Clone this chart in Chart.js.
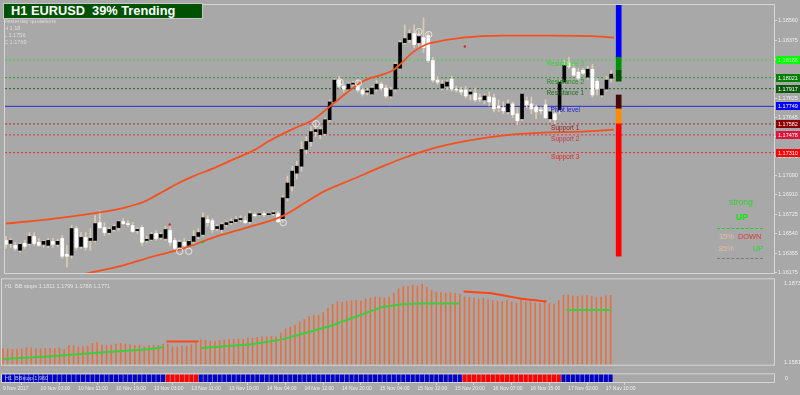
<!DOCTYPE html>
<html><head><meta charset="utf-8">
<script src="https://cdn.jsdelivr.net/npm/chart.js@4.4.1/dist/chart.umd.min.js"></script>
<style>
html,body{margin:0;padding:0;background:#a8a8a8;width:800px;height:395px;overflow:hidden;font-family:"Liberation Sans",Arial,sans-serif;}
.pane{position:absolute;left:0;width:800px;}
.pane canvas{display:block;}
#title{position:absolute;left:3px;top:3px;width:191px;height:14px;background:#005200;border:1px solid #c8c8c8;color:#fff;font-weight:bold;font-size:12.8px;line-height:14px;padding-left:7px;white-space:pre;}
.q{position:absolute;left:4px;font-size:5.6px;color:#dcdcdc;line-height:6px;white-space:pre;}
.lg{position:absolute;line-height:10px;white-space:pre;}
.dl{position:absolute;left:717px;width:46px;height:0;}
</style></head><body>
<div class="pane" style="top:0;height:280px"><canvas id="cMain" width="800" height="280"></canvas></div>
<div class="pane" style="top:274px;height:96px"><canvas id="cSub" width="800" height="96"></canvas></div>
<div class="pane" style="top:368px;height:27px"><canvas id="cTrend" width="800" height="27"></canvas></div>

<div id="title">H1 EURUSD  39% Trending</div>
<div class="q" style="top:18px">Yesterday quotations</div>
<div class="q" style="top:25px">H 1.18</div>
<div class="q" style="top:32px">L 1.1756</div>
<div class="q" style="top:39px">C 1.1769</div>

<div class="lg" style="left:729px;top:197px;font-size:8.6px;color:#2fd02f">strong</div>
<div class="lg" style="left:736px;top:212px;font-size:8.5px;font-weight:bold;color:#00f000">UP</div>
<div class="dl" style="top:228px;border-top:1px dashed #22cc22"></div>
<div class="lg" style="left:719px;top:232px;font-size:7.4px;color:#e8bca4">15%</div>
<div class="lg" style="left:738px;top:232px;font-size:7.4px;color:#e03434">DOWN</div>
<div class="lg" style="left:719px;top:244px;font-size:7.4px;color:#e8bca4">85%</div>
<div class="lg" style="left:753px;top:244px;font-size:7.4px;color:#22dd22">UP</div>
<div class="dl" style="top:258px;border-top:1px dashed #7a7a7a"></div>

<script>
// ---------- data ----------
const timeLabels = ['9 Nov 2017','10 Nov 03:00','10 Nov 11:00','10 Nov 19:00','13 Nov 03:00','13 Nov 11:00','13 Nov 19:00','14 Nov 04:00','14 Nov 12:00','14 Nov 20:00','15 Nov 04:00','15 Nov 12:00','15 Nov 20:00','16 Nov 07:00','16 Nov 15:00','17 Nov 02:00','17 Nov 10:00'];
const timeIdx = [0,8,16,24,32,40,48,56,64,72,80,88,96,104,112,120,128];

const opens = [
1.16476,1.16448,1.16429,1.16383,1.16448,1.16448,1.16514,1.16458,1.16439,1.16429,
1.16467,1.16439,1.16495,1.16345,1.16336,1.16589,1.16420,1.16505,1.16476,1.16476,
1.16645,1.16598,1.16551,1.16580,1.16598,1.16655,1.16636,1.16617,1.16570,1.16598,
1.16476,1.16486,1.16542,1.16505,1.16495,1.16570,1.16476,1.16411,1.16458,1.16429,
1.16467,1.16514,1.16533,1.16674,1.16664,1.16589,1.16580,1.16627,1.16645,1.16655,
1.16674,1.16664,1.16655,1.16720,1.16720,1.16730,1.16720,1.16730,1.16730,1.16683,
1.16880,1.16993,1.17115,1.17181,1.17340,1.17415,1.17509,1.17481,1.17491,1.17622,
1.17791,1.17998,1.17941,1.17913,1.17960,1.17960,1.17904,1.17885,1.17866,1.17913,
1.17960,1.17922,1.17847,1.17913,1.18110,1.18354,1.18383,1.18439,1.18354,1.18401,
1.18420,1.18185,1.17998,1.17922,1.17941,1.18007,1.17913,1.17904,1.17904,1.17866,
1.17875,1.17829,1.17810,1.17838,1.17829,1.17753,1.17735,1.17697,1.17772,1.17678,
1.17631,1.17800,1.17772,1.17744,1.17716,1.17763,1.17631,1.17678,1.17716,1.17979,
1.18167,1.18110,1.18073,1.18091,1.18026,1.18101,1.17988,1.17857,1.17913,1.18016];
const highs = [
1.16514,1.16495,1.16458,1.16448,1.16476,1.16551,1.16551,1.16495,1.16476,1.16495,
1.16495,1.16486,1.16523,1.16429,1.16617,1.16608,1.16551,1.16551,1.16589,1.16711,
1.16758,1.16645,1.16598,1.16627,1.16664,1.16683,1.16664,1.16645,1.16598,1.16617,
1.16514,1.16551,1.16570,1.16551,1.16608,1.16608,1.16495,1.16476,1.16495,1.16476,
1.16570,1.16589,1.16739,1.16711,1.16683,1.16627,1.16645,1.16664,1.16683,1.16702,
1.16711,1.16702,1.16758,1.16739,1.16739,1.16749,1.16739,1.16758,1.16749,1.16899,
1.17087,1.17181,1.17228,1.17415,1.17462,1.17556,1.17603,1.17556,1.17641,1.17810,
1.18016,1.18035,1.17960,1.17979,1.17988,1.17998,1.17922,1.17922,1.17941,1.17998,
1.17979,1.17951,1.17932,1.18167,1.18373,1.18523,1.18476,1.18523,1.18467,1.18589,
1.18448,1.18214,1.18035,1.17998,1.17998,1.18035,1.17941,1.17932,1.17941,1.17904,
1.17922,1.17866,1.17866,1.17885,1.17866,1.17810,1.17791,1.17810,1.17791,1.17735,
1.17875,1.17838,1.17838,1.17763,1.17744,1.17810,1.17716,1.17697,1.17998,1.18185,
1.18214,1.18148,1.18110,1.18110,1.18129,1.18148,1.18016,1.17922,1.18035,1.18091];
const lows = [
1.16401,1.16411,1.16383,1.16364,1.16401,1.16429,1.16429,1.16420,1.16411,1.16411,
1.16411,1.16420,1.16307,1.16223,1.16307,1.16383,1.16401,1.16383,1.16383,1.16458,
1.16589,1.16523,1.16533,1.16561,1.16570,1.16627,1.16608,1.16551,1.16542,1.16429,
1.16458,1.16476,1.16476,1.16486,1.16476,1.16429,1.16383,1.16383,1.16401,1.16420,
1.16448,1.16495,1.16514,1.16608,1.16551,1.16570,1.16551,1.16608,1.16627,1.16645,
1.16655,1.16636,1.16636,1.16702,1.16711,1.16702,1.16711,1.16711,1.16645,1.16645,
1.16852,1.16946,1.17059,1.17134,1.17303,1.17368,1.17462,1.17444,1.17472,1.17603,
1.17782,1.17922,1.17885,1.17894,1.17941,1.17885,1.17847,1.17857,1.17857,1.17894,
1.17904,1.17829,1.17829,1.17894,1.18101,1.18336,1.18354,1.18307,1.18317,1.18261,
1.18167,1.17979,1.17960,1.17904,1.17904,1.17894,1.17885,1.17857,1.17829,1.17810,
1.17791,1.17791,1.17772,1.17753,1.17697,1.17697,1.17678,1.17678,1.17641,1.17575,
1.17613,1.17735,1.17678,1.17631,1.17678,1.17631,1.17603,1.17584,1.17678,1.17960,
1.18110,1.18035,1.17998,1.18054,1.18007,1.17838,1.17857,1.17838,1.17894,1.17979];
const closes = [
1.16439,1.16476,1.16401,1.16439,1.16420,1.16514,1.16448,1.16429,1.16467,1.16476,
1.16439,1.16467,1.16326,1.16326,1.16589,1.16411,1.16505,1.16411,1.16495,1.16636,
1.16598,1.16551,1.16580,1.16608,1.16655,1.16636,1.16627,1.16561,1.16580,1.16458,
1.16486,1.16533,1.16495,1.16533,1.16580,1.16458,1.16401,1.16458,1.16429,1.16467,
1.16514,1.16551,1.16692,1.16645,1.16580,1.16608,1.16627,1.16645,1.16655,1.16674,
1.16683,1.16645,1.16730,1.16711,1.16730,1.16720,1.16730,1.16739,1.16655,1.16880,
1.17021,1.17134,1.17181,1.17340,1.17415,1.17509,1.17528,1.17528,1.17622,1.17791,
1.17998,1.17941,1.17913,1.17960,1.17969,1.17904,1.17866,1.17894,1.17922,1.17960,
1.17922,1.17847,1.17904,1.18148,1.18354,1.18392,1.18439,1.18336,1.18411,1.18307,
1.18185,1.17998,1.17979,1.17960,1.17979,1.17913,1.17904,1.17885,1.17847,1.17885,
1.17810,1.17819,1.17847,1.17791,1.17725,1.17735,1.17706,1.17772,1.17669,1.17613,
1.17866,1.17763,1.17725,1.17697,1.17706,1.17641,1.17697,1.17622,1.17979,1.18138,
1.18129,1.18045,1.18016,1.18063,1.18101,1.17857,1.17913,1.17913,1.17998,1.18054];

const bandUpper = [{x:0,y:1.16636},{x:10.3,y:1.16683},{x:20.9,y:1.16749},{x:25.2,y:1.16786},{x:29.4,y:1.16843},{x:33.7,y:1.16946},{x:36.8,y:1.17021},{x:40,y:1.17087},{x:44.3,y:1.17162},{x:48.5,y:1.17246},{x:52.8,y:1.17331},{x:55.9,y:1.17415},{x:61.3,y:1.17537},{x:65.5,y:1.17622},{x:70.2,y:1.17791},{x:76.1,y:1.17988},{x:82.5,y:1.18091},{x:84,y:1.18148},{x:86.7,y:1.18261},{x:89.5,y:1.18336},{x:91,y:1.18354},{x:97.4,y:1.18401},{x:105.8,y:1.18420},{x:116.5,y:1.18420},{x:125,y:1.18415},{x:129.6,y:1.18401}];
const bandLower = [{x:16.7,y:1.16157},{x:25.2,y:1.16242},{x:31.5,y:1.16326},{x:37.9,y:1.16401},{x:44.3,y:1.16505},{x:50.6,y:1.16589},{x:58.7,y:1.16702},{x:63.4,y:1.16824},{x:67.6,y:1.16937},{x:74,y:1.17059},{x:80.4,y:1.17181},{x:84.6,y:1.17256},{x:91,y:1.17350},{x:97.3,y:1.17415},{x:105.8,y:1.17472},{x:114.3,y:1.17500},{x:122.8,y:1.17509},{x:129.6,y:1.17528}];

const levelNames  = ['Resistance 3','Resistance 2','Resistance 1','Pivot level','Support 1','Support 2','Support 3'];
const levelValues = [1.18188,1.18021,1.17917,1.17749,1.17582,1.17478,1.17310];
const priceTicks  = [1.16175,1.16355,1.16540,1.16725,1.16910,1.17090,1.17275,1.17460,1.17645,1.17825,1.18010,1.18190,1.18375,1.18560];

const zoneLows  = [1.18214,1.18091,1.17988,1.17725,1.17584,1.16326];
const zoneHighs = [1.18711,1.18214,1.18091,1.17857,1.17725,1.17584];

const rings = [{x:37.05,y:1.16373},{x:38.96,y:1.16373},{x:59.1,y:1.16645},{x:66.1,y:1.17584},{x:71.2,y:1.17979},{x:75.1,y:1.17970},{x:88,y:1.18458},{x:90.1,y:1.18430}];
const redDots = [{x:34.9,y:1.16627},{x:97.8,y:1.18317}];
const greenDots = [{x:41.9,y:1.16458}];

const histValues = [
1.1633,1.1632,1.1630,1.1631,1.1632,1.1636,1.1636,1.1633,1.1632,1.1634,
1.1634,1.1633,1.1636,1.1630,1.1645,1.1644,1.1640,1.1640,1.1642,1.1652,
1.1656,1.1646,1.1644,1.1646,1.1650,1.1652,1.1650,1.1648,1.1645,1.1646,
1.1640,1.1644,1.1646,1.1645,1.1650,1.1650,1.1640,1.1640,1.1642,1.1641,
1.1648,1.1652,1.1665,1.1663,1.1661,1.1660,1.1662,1.1664,1.1666,1.1667,
1.1668,1.1667,1.1672,1.1671,1.1674,1.1676,1.1676,1.1678,1.1676,1.1690,
1.1705,1.1712,1.1718,1.1730,1.1740,1.1750,1.1755,1.1755,1.1765,1.1780,
1.1795,1.1805,1.1803,1.1806,1.1808,1.1810,1.1808,1.1815,1.1818,1.1822,
1.1820,1.1818,1.1822,1.1835,1.1852,1.1862,1.1860,1.1865,1.1862,1.1868,
1.1858,1.1845,1.1840,1.1838,1.1836,1.1838,1.1835,1.1832,1.1822,1.1820,
1.1818,1.1815,1.1817,1.1812,1.1810,1.1808,1.1806,1.1810,1.1804,1.1800,
1.1812,1.1805,1.1803,1.1800,1.1798,1.1802,1.1798,1.1796,1.1810,1.1828,
1.1830,1.1826,1.1824,1.1826,1.1828,1.1825,1.1820,1.1822,1.1826,1.1828];
const stopUp = [{x:0,y:1.15946},{x:10.3,y:1.16048},{x:20.9,y:1.16184},{x:31.5,y:1.16319},{x:34.1,y:1.16387},{x:35,y:null},{x:42.1,y:1.16353},{x:52.8,y:1.16489},{x:59.1,y:1.16659},{x:63.4,y:1.16863},{x:69.7,y:1.17168},{x:76.1,y:1.17576},{x:80.4,y:1.17847},{x:84.6,y:1.17949},{x:88.9,y:1.17983},{x:96.9,y:1.17983},{x:97.5,y:null},{x:119.6,y:1.17745},{x:129.2,y:1.17745}];
const stopDown = [{x:34.7,y:1.16591},{x:41.5,y:1.16591},{x:42,y:null},{x:97.8,y:1.18424},{x:103.7,y:1.18357},{x:110.1,y:1.18153},{x:115.4,y:1.18051}];
const stopLegend = 'H1  BB stops 1.1811 1.1799 1.1788 1.1771';
const subTicks = [1.1581,1.1873];

const trendCodes = ('uuuuuuuuuuuuuuuuuuuuuuuuuuuuuuuuuuu' + 'ddddddd' +
  'uuuuuuuuuuuuuuuuuuuuuuuuuuuuuuuuuuuuuuuuuuuuuuuuuuuuuuuu' + 'ddddddddddddddddddddd' + 'uuuuuuuuuuu').split('');
const trendLegend = 'H1  BBstop 1.960';

// ---------- style ----------
const X_MIN = -0.2, X_MAX = 163.7, ZONE_X = 130.6, LEVEL_LABEL_X = 119.2;
const SUB_MIN = 1.15742, SUB_MAX = 1.18866;
const FONT = '"Liberation Sans", Arial, sans-serif';
const AXIS_W = 26;
const levelLineColors = ['#36dc36','#22a022','#1d6b1d','#2b2bd0','#a83232','#cc3a52','#e23030'];
const levelTextColors = ['#3ad23a','#1f8f1f','#1d6b1d','#1c1cd8','#8e1c1c','#d0304a','#e02828'];
const levelBoxColors  = ['#00ff00','#008000','#0b5a0b','#0000ff','#8b0000','#dc143c','#ff0000'];
const levelBoxText    = ['#b8ffb8','#ffffff','#ffffff','#ffffff','#ffffff','#ffffff','#ffffff'];
const zoneColors = ['#0000ff','#009000','#005400','#4a0808','#ff8c00','#ff0000'];

Chart.defaults.font.family = FONT;
Chart.defaults.animation = false;

const fixW = s => { s.width = AXIS_W; };
const frame = { id:'frame', afterDraw(chart){
  const {ctx, chartArea:a} = chart; ctx.save();
  ctx.strokeStyle = '#d6d6d6'; ctx.lineWidth = 1;
  ctx.strokeRect(a.left-0.5, a.top-0.5, a.width+1, a.height+1);
  ctx.restore(); } };

const levelsPlugin = { id:'levels', afterDraw(chart){
  const {ctx, chartArea:a, scales:{x, y}} = chart; ctx.save();
  levelValues.forEach((v,k)=>{
    const py = y.getPixelForValue(v);
    ctx.font = '6.5px ' + FONT; ctx.textAlign = 'center'; ctx.textBaseline = 'top';
    ctx.fillStyle = levelTextColors[k];
    ctx.fillText(levelNames[k], x.getPixelForValue(LEVEL_LABEL_X), py + 1);
    ctx.fillStyle = levelBoxColors[k];
    ctx.fillRect(a.right + 2, Math.round(py) - 4, 800 - a.right - 2, 8);
    ctx.fillStyle = levelBoxText[k]; ctx.font = '5.5px ' + FONT;
    ctx.textAlign = 'left'; ctx.textBaseline = 'middle';
    ctx.fillText(v.toFixed(5), a.right + 4, Math.round(py));
  });
  ctx.restore(); } };

const textPlugin = (txt, color) => ({ id:'txt', afterDraw(chart){
  const {ctx, chartArea:a} = chart; ctx.save();
  ctx.font = '5.5px ' + FONT; ctx.fillStyle = color; ctx.textBaseline = 'top';
  ctx.fillText(txt, a.left + 3, a.top + 4); ctx.restore(); } });

const idx = opens.map((_, i) => i);
const xLinear = (display) => ({ type:'linear', min:X_MIN, max:X_MAX, offset:false, display, grid:{display:false} });

// ---------- main chart ----------
const datasets = [];
levelValues.forEach((v,k)=>{
  datasets.push({ type:'line', data:[{x:X_MIN,y:v},{x:X_MAX,y:v}], borderColor:levelLineColors[k], borderWidth:1,
    borderDash: k===3 ? [] : [2,2], pointRadius:0, order:20 });
});
datasets.push({ type:'bar', data: zoneLows.map((lo,k)=>({x:ZONE_X, y:[lo, zoneHighs[k]]})), backgroundColor: zoneColors,
  grouped:false, barThickness:5, maxBarThickness:5, order:15 });
datasets.push({ type:'bar', data: idx.map(i=>({x:i, y:[lows[i], highs[i]]})), backgroundColor:'#dccbb3',
  grouped:false, barThickness:1, maxBarThickness:1, order:12 });
datasets.push({ type:'bar', data: idx.map(i=>({x:i, y:[Math.min(opens[i],closes[i]), Math.max(opens[i],closes[i])]})),
  backgroundColor: idx.map(i=> closes[i] >= opens[i] ? '#000000' : '#ffffff'),
  grouped:false, barThickness:3, maxBarThickness:3, minBarLength:1, order:11 });
datasets.push({ type:'line', data: bandUpper, borderColor:'#f5501e', borderWidth:1.8, pointRadius:0, cubicInterpolationMode:'monotone', order:5 });
datasets.push({ type:'line', data: bandLower, borderColor:'#f5501e', borderWidth:1.8, pointRadius:0, cubicInterpolationMode:'monotone', order:5 });
datasets.push({ type:'line', data: rings, showLine:false, pointStyle:'circle', pointRadius:3.2, pointBorderWidth:1,
  pointBorderColor:'#e6e6e6', pointBackgroundColor:'rgba(0,0,0,0)', order:3 });
datasets.push({ type:'line', data: redDots, showLine:false, pointRadius:1.2, pointBorderWidth:0, pointBackgroundColor:'#e02020', order:3 });
datasets.push({ type:'line', data: greenDots, showLine:false, pointRadius:1.2, pointBorderWidth:0, pointBackgroundColor:'#20c020', order:3 });

new Chart(document.getElementById('cMain'), {
  type:'bar',
  data:{ datasets },
  options:{
    responsive:false, animation:false, events:[],
    layout:{ padding:{ left:2, top:2, right:0, bottom:7 } },
    plugins:{ legend:{display:false}, tooltip:{enabled:false} },
    scales:{
      x: xLinear(false),
      y:{ type:'linear', position:'right', min:1.16167, max:1.18711, afterFit:fixW,
          afterBuildTicks: s => { s.ticks = priceTicks.map(v=>({value:v})); },
          grid:{ display:true, drawOnChartArea:false, drawTicks:true, tickLength:3, color:'#d6d6d6' },
          border:{ display:false },
          ticks:{ color:'#efefef', font:{size:5.5}, padding:1, callback:v=>v.toFixed(5) } }
    }
  },
  plugins:[frame, levelsPlugin]
});

// ---------- sub chart (BB stops) ----------
new Chart(document.getElementById('cSub'), {
  type:'bar',
  data:{ datasets:[
    { type:'bar', data: idx.map(i=>({x:i, y:[SUB_MIN, histValues[i]]})), backgroundColor:'#e8703e',
      grouped:false, barThickness:1, maxBarThickness:1, order:5 },
    { type:'line', data: stopUp, borderColor:'#3ccc3c', borderWidth:2, pointRadius:0, spanGaps:false, order:2 },
    { type:'line', data: stopDown, borderColor:'#ff4418', borderWidth:2, pointRadius:0, spanGaps:false, order:2 }
  ]},
  options:{
    responsive:false, animation:false, events:[],
    layout:{ padding:{ left:2, top:2, right:0, bottom:2 } },
    plugins:{ legend:{display:false}, tooltip:{enabled:false} },
    scales:{
      x: xLinear(false),
      y:{ type:'linear', position:'right', min:SUB_MIN, max:SUB_MAX, afterFit:fixW,
          afterBuildTicks: s => { s.ticks = subTicks.map(v=>({value:v})); },
          grid:{ display:false }, border:{ display:false },
          ticks:{ color:'#efefef', font:{size:5.5}, padding:2, callback:v=>v.toFixed(4) } }
    }
  },
  plugins:[frame, textPlugin(stopLegend, '#e4e4e4')]
});

// ---------- trend strip ----------
new Chart(document.getElementById('cTrend'), {
  type:'bar',
  data:{ datasets:[
    { type:'bar', data: idx.map(i=>({x:i, y:1})), backgroundColor: trendCodes.map(c => c === 'd' ? '#ff0000' : '#0000c8'),
      grouped:false, barThickness:3.4, maxBarThickness:3.4 }
  ]},
  options:{
    responsive:false, animation:false, events:[],
    layout:{ padding:{ left:2, top:2, right:0, bottom:0 } },
    plugins:{ legend:{display:false}, tooltip:{enabled:false} },
    scales:{
      x:{ type:'linear', min:X_MIN, max:X_MAX, offset:false, position:'bottom',
          afterBuildTicks: s => { s.ticks = timeIdx.map(v=>({value:v})); },
          afterFit: s => { s.height = 13; },
          grid:{ display:true, drawOnChartArea:false, drawTicks:true, tickLength:3, color:'#d6d6d6' },
          border:{ display:false },
          ticks:{ color:'#efefef', font:{size:5}, padding:1, align:'start', maxRotation:0, autoSkip:false,
                  callback:(v)=>{ const k = timeIdx.indexOf(v); return k>=0 ? timeLabels[k] : ''; } } },
      y:{ type:'linear', position:'right', min:0, max:1, afterFit:fixW,
          afterBuildTicks: s => { s.ticks = [{value:0}]; },
          grid:{ display:false }, border:{ display:false },
          ticks:{ color:'#efefef', font:{size:5.5}, padding:3, labelOffset:-4, callback:()=> '0' } }
    }
  },
  plugins:[frame, { id:'tl', afterDraw(chart){ const {ctx, chartArea:a} = chart; ctx.save();
    ctx.font='5.5px ' + FONT; ctx.fillStyle='#b8c0f0'; ctx.textBaseline='middle';
    ctx.fillText(trendLegend, a.left + 3, (a.top + a.bottom)/2); ctx.restore(); } }]
});
</script>
</body></html>
